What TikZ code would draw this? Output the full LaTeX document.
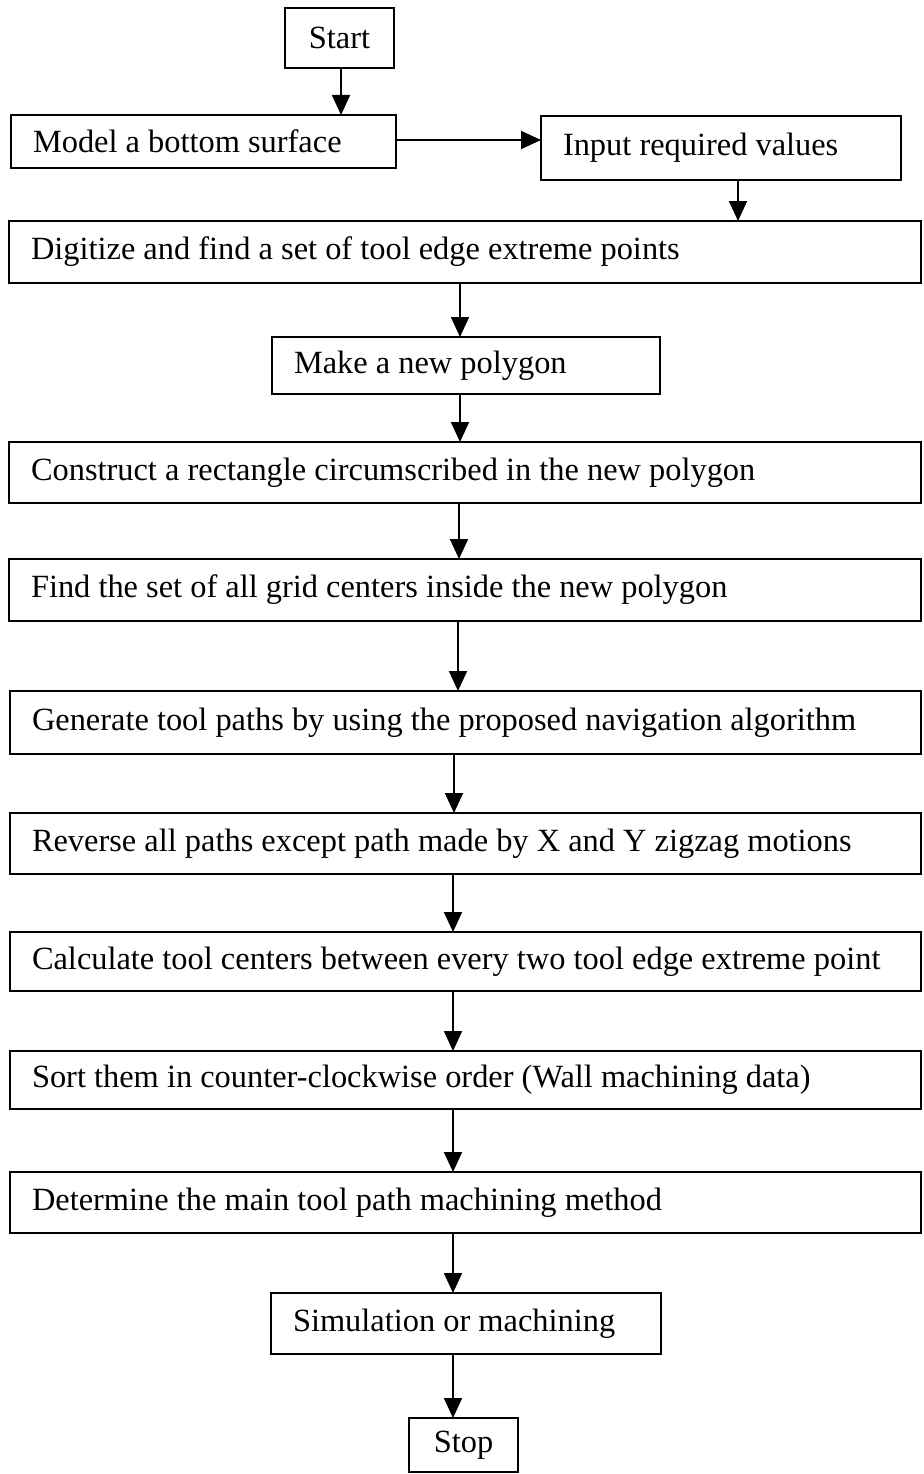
\documentclass[tikz,border=0pt]{standalone}
\usepackage{fontspec}
\setmainfont{Liberation Serif}
\usetikzlibrary{arrows.meta}
\newcommand{\boxfont}{\fontsize{32.4}{36}\selectfont}
\begin{document}
\begin{tikzpicture}[x=1pt,y=-1pt,
  stepbox/.style={draw, line width=1.8pt, outer sep=0pt, inner xsep=22pt, inner ysep=0pt,
    align=flush left, anchor=north west, font=\boxfont},
  endbox/.style={draw, line width=1.8pt, outer sep=0pt, inner sep=0pt,
    anchor=north west, font=\boxfont},
  arr/.style={line width=1.8pt, -{Triangle[length=20pt,width=18pt]}}]
\useasboundingbox (0,0) rectangle (923,1474);
% boxes: position is the top-left corner, sizes in px
\node[endbox, minimum width=109pt, minimum height=60pt] (start) at (285,8) {Start};
\node[stepbox, text width=341pt, minimum height=53pt] (model) at (11,115) {Model a bottom surface};
\node[stepbox, text width=316pt, minimum height=64pt] (input) at (541,116) {Input required values};
\node[stepbox, text width=868pt, minimum height=62pt] (dig) at (9,221) {Digitize and find a set of tool edge extreme points};
\node[stepbox, text width=344pt, minimum height=57pt] (make) at (272,337) {Make a new polygon};
\node[stepbox, text width=868pt, minimum height=61pt] (cons) at (9,442) {Construct a rectangle circumscribed in the new polygon};
\node[stepbox, text width=868pt, minimum height=62pt] (find) at (9,559) {Find the set of all grid centers inside the new polygon};
\node[stepbox, text width=867pt, minimum height=63pt] (gen) at (10,691) {Generate tool paths by using the proposed navigation algorithm};
\node[stepbox, text width=867pt, minimum height=61pt] (rev) at (10,813) {Reverse all paths except path made by X and Y zigzag motions};
\node[stepbox, text width=867pt, minimum height=59pt] (calc) at (10,932) {Calculate tool centers between every two tool edge extreme point};
\node[stepbox, text width=867pt, minimum height=58pt] (sort) at (10,1051) {Sort them in counter-clockwise order (Wall machining data)};
\node[stepbox, text width=867pt, minimum height=61pt] (det) at (10,1172) {Determine the main tool path machining method};
\node[stepbox, text width=346pt, minimum height=61pt] (sim) at (271,1293) {Simulation or machining};
\node[endbox, minimum width=109pt, minimum height=54pt] (stop) at (409,1418) {Stop};
% x positions of the vertical connectors
\coordinate (xa) at (341,0);
\coordinate (xb) at (738,0);
\coordinate (xc) at (460,0);
\coordinate (xd) at (459,0);
\coordinate (xe) at (458,0);
\coordinate (xf) at (454,0);
\coordinate (xg) at (453,0);
% connectors
\draw[arr] (start.south -| xa) -- (model.north -| xa);
\draw[arr] (model.east |- 0,140) -- (input.west |- 0,140);
\draw[arr] (input.south -| xb) -- (dig.north -| xb);
\draw[arr] (dig.south -| xc) -- (make.north -| xc);
\draw[arr] (make.south -| xc) -- (cons.north -| xc);
\draw[arr] (cons.south -| xd) -- (find.north -| xd);
\draw[arr] (find.south -| xe) -- (gen.north -| xe);
\draw[arr] (gen.south -| xf) -- (rev.north -| xf);
\draw[arr] (rev.south -| xg) -- (calc.north -| xg);
\draw[arr] (calc.south -| xg) -- (sort.north -| xg);
\draw[arr] (sort.south -| xg) -- (det.north -| xg);
\draw[arr] (det.south -| xg) -- (sim.north -| xg);
\draw[arr] (sim.south -| xg) -- (stop.north -| xg);
\end{tikzpicture}
\end{document}
